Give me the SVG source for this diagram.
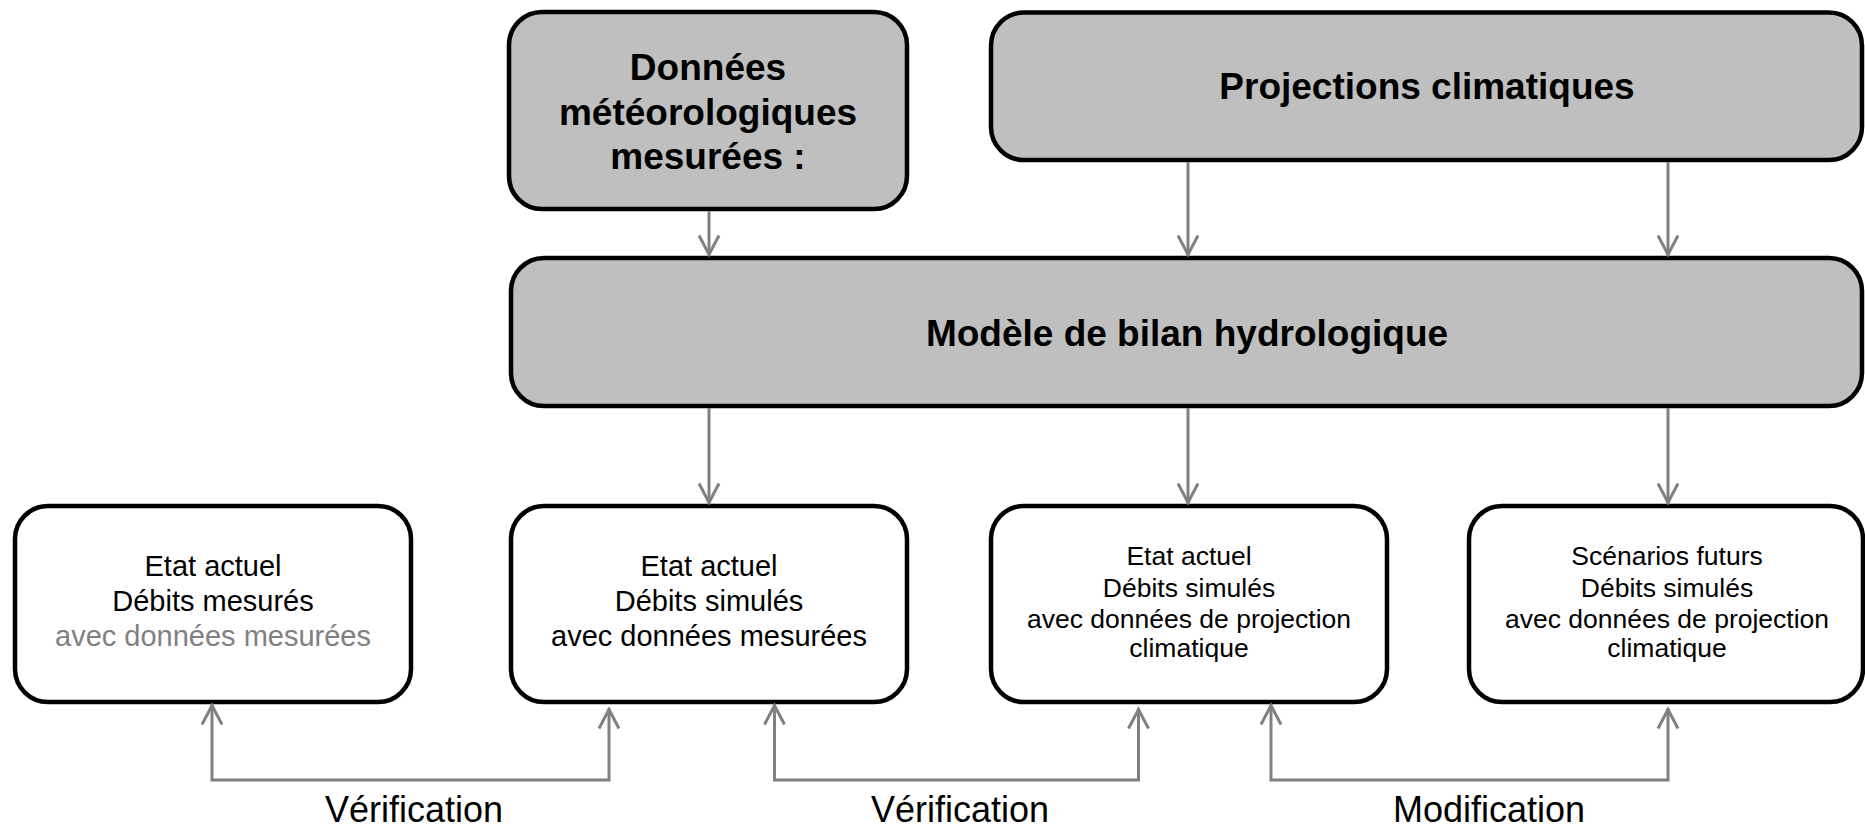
<svg xmlns="http://www.w3.org/2000/svg" width="1865" height="827" viewBox="0 0 1865 827">
<style>
.gbox{fill:#BFBFBF;stroke:#000;stroke-width:4.5}
.wbox{fill:#FFF;stroke:#000;stroke-width:4.5}
.bt{font-family:"Liberation Sans",Arial,sans-serif;font-weight:bold;font-size:37px;fill:#000;text-anchor:middle}
.t29{font-family:"Liberation Sans",Arial,sans-serif;font-size:29px;fill:#000;text-anchor:middle}
.t26{font-family:"Liberation Sans",Arial,sans-serif;font-size:26.5px;fill:#000;text-anchor:middle}
.lbl{font-family:"Liberation Sans",Arial,sans-serif;font-size:36px;fill:#000;text-anchor:middle}
.con{fill:none;stroke:#808080;stroke-width:3}
</style>
<defs>
<marker id="arr" viewBox="-24 -12 28 24" refX="1.5" refY="0" markerWidth="28" markerHeight="24" markerUnits="userSpaceOnUse" orient="auto-start-reverse">
<path d="M-19,-10 L0,0 L-19,10" fill="none" stroke="#808080" stroke-width="3"/>
</marker>
</defs>
<rect width="1865" height="827" fill="#FFF"/>
<g id="donnees">
<rect class="gbox" x="509" y="12" width="398" height="197" rx="33" ry="33"/>
<text class="bt" x="708" y="80">Données</text>
<text class="bt" x="708" y="125">météorologiques</text>
<text class="bt" x="708" y="169">mesurées :</text>
</g>
<g id="projections">
<rect class="gbox" x="991" y="12.5" width="871" height="147.5" rx="33" ry="33"/>
<text class="bt" x="1427" y="99">Projections climatiques</text>
</g>
<g id="modele">
<rect class="gbox" x="511" y="258" width="1351" height="148" rx="33" ry="33"/>
<text class="bt" x="1187" y="346">Modèle de bilan hydrologique</text>
</g>
<g id="box1">
<rect class="wbox" x="15" y="506" width="396" height="196" rx="33" ry="33"/>
<text class="t29" x="213" y="576">Etat actuel</text>
<text class="t29" x="213" y="611">Débits mesurés</text>
<text class="t29" x="213" y="646" style="fill:#808080">avec données mesurées</text>
</g>
<g id="box2">
<rect class="wbox" x="511" y="506" width="396" height="196" rx="33" ry="33"/>
<text class="t29" x="709" y="576">Etat actuel</text>
<text class="t29" x="709" y="611">Débits simulés</text>
<text class="t29" x="709" y="646">avec données mesurées</text>
</g>
<g id="box3">
<rect class="wbox" x="991" y="506" width="396" height="196" rx="33" ry="33"/>
<text class="t26" x="1189" y="565">Etat actuel</text>
<text class="t26" x="1189" y="596.5">Débits simulés</text>
<text class="t26" x="1189" y="628">avec données de projection</text>
<text class="t26" x="1189" y="656.5">climatique</text>
</g>
<g id="box4">
<rect class="wbox" x="1469" y="506" width="394" height="196" rx="33" ry="33"/>
<text class="t26" x="1667" y="565">Scénarios futurs</text>
<text class="t26" x="1667" y="596.5">Débits simulés</text>
<text class="t26" x="1667" y="628">avec données de projection</text>
<text class="t26" x="1667" y="656.5">climatique</text>
</g>
<g id="connectors">
<path class="con" d="M709,211 L709,256" marker-end="url(#arr)"/>
<path class="con" d="M1188,162 L1188,256" marker-end="url(#arr)"/>
<path class="con" d="M1668,162 L1668,256" marker-end="url(#arr)"/>
<path class="con" d="M709,408 L709,504" marker-end="url(#arr)"/>
<path class="con" d="M1188,408 L1188,504" marker-end="url(#arr)"/>
<path class="con" d="M1668,408 L1668,504" marker-end="url(#arr)"/>
<path class="con" d="M212,704 L212,780 L609,780 L609,708" marker-start="url(#arr)" marker-end="url(#arr)"/>
<path class="con" d="M774.5,704 L774.5,780 L1138.5,780 L1138.5,708" marker-start="url(#arr)" marker-end="url(#arr)"/>
<path class="con" d="M1271,704 L1271,780 L1668,780 L1668,708" marker-start="url(#arr)" marker-end="url(#arr)"/>
</g>
<g id="labels">
<text class="lbl" x="414" y="822">Vérification</text>
<text class="lbl" x="960" y="822">Vérification</text>
<text class="lbl" x="1489" y="822">Modification</text>
</g>
</svg>
